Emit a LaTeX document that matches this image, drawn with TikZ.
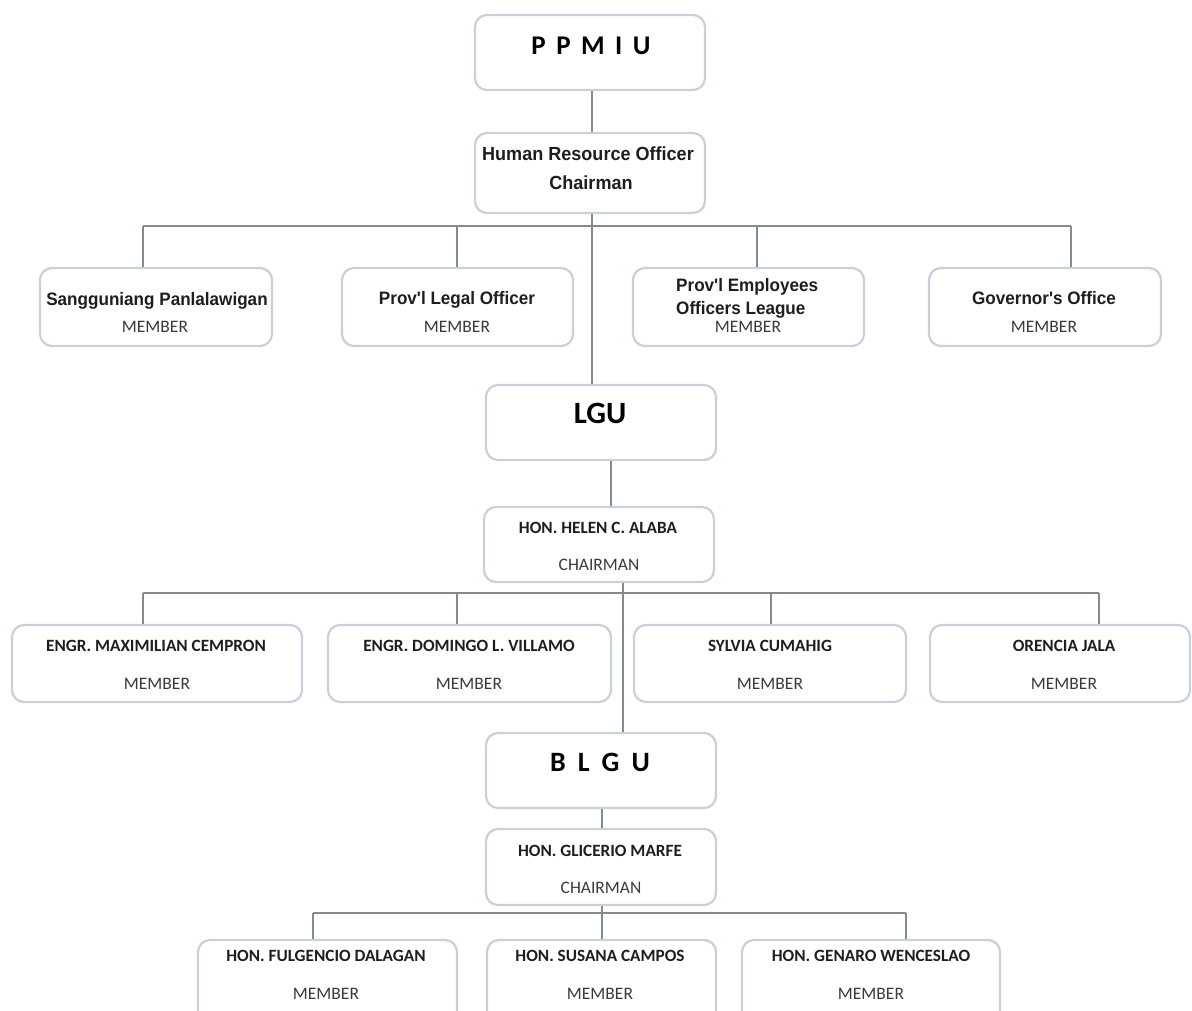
\documentclass[tikz,border=0pt]{standalone}
\usepackage{fontspec}
\setmainfont{Carlito}
\newfontfamily\arialb[FakeStretch=0.95]{Liberation Sans}
\usetikzlibrary{calc}
\definecolor{boxline}{HTML}{C9D0DA}
\definecolor{connline}{HTML}{858A90}
\definecolor{membcol}{HTML}{3A3A3A}
\definecolor{namecol}{HTML}{1E1E1E}
\tikzset{
  orgbox/.style={draw=boxline, line width=2.2pt, rounded corners=12pt, fill=white, inner sep=0pt},
  conn/.style={draw=connline, line width=1.5pt},
  titletxt/.style={anchor=base, inner sep=0pt, font=\bfseries\fontsize{28}{32}\selectfont, text=black},
  arialtxt/.style={anchor=base, inner sep=0pt, font=\arialb\bfseries\fontsize{18}{21}\selectfont, text=namecol},
  nametxt/.style={anchor=base, inner sep=0pt, font=\bfseries\fontsize{17.2}{20}\selectfont, text=namecol},
  membtxt/.style={anchor=base, inner sep=0pt, font=\fontsize{17.5}{20}\selectfont, text=membcol},
}
\newcommand{\mkbox}[5]{\node[orgbox, minimum width=#4-#2, minimum height=#5-#3] (#1) at ({(#2+#4)/2},{(#3+#5)/2}) {};}
\begin{document}
\begin{tikzpicture}[x=1pt,y=-1pt]
\useasboundingbox (0,0) rectangle (1192,1010);
\clip (0,0) rectangle (1192,1010);
\fill[white] (0,0) rectangle (1192,1010);

\coordinate (trk1) at (592,0);
\coordinate (trk2) at (611,0);
\coordinate (trk3) at (623,0);
\coordinate (trk4) at (602,0);

% boxes
\mkbox{ppmiu}{475}{15}{705}{90}
\mkbox{hr}{475}{133}{705}{213}
\mkbox{sang}{40}{268}{272}{346}
\mkbox{legal}{342}{268}{573}{346}
\mkbox{empl}{633}{268}{864}{346}
\mkbox{gov}{929}{268}{1161}{346}
\mkbox{lgu}{486}{385}{716}{460}
\mkbox{helen}{484}{507}{714}{582}
\mkbox{maxi}{12}{625}{302}{702}
\mkbox{domi}{328}{625}{611}{702}
\mkbox{sylv}{634}{625}{906}{702}
\mkbox{oren}{930}{625}{1190}{702}
\mkbox{blgu}{486}{733}{716}{808}
\mkbox{glic}{486}{829}{716}{905}
\mkbox{fulg}{198}{940}{457}{1040}
\mkbox{susa}{487}{940}{716}{1040}
\mkbox{gena}{742}{940}{1000}{1040}

% level 1
\coordinate (bus1) at (0,226);
\coordinate (d11) at (143,0);
\coordinate (d12) at (457,0);
\coordinate (d13) at (757,0);
\coordinate (d14) at (1071,0);
\draw[conn] (ppmiu.south -| trk1) -- (hr.north -| trk1);
\draw[conn] (hr.south -| trk1) -- (lgu.north -| trk1);
\draw[conn] (d11 |- bus1) -- (d14 |- bus1);
\draw[conn] (d11 |- bus1) -- (sang.north -| d11);
\draw[conn] (d12 |- bus1) -- (legal.north -| d12);
\draw[conn] (d13 |- bus1) -- (empl.north -| d13);
\draw[conn] (d14 |- bus1) -- (gov.north -| d14);

% level 2
\coordinate (bus2) at (0,593);
\coordinate (d21) at (143,0);
\coordinate (d22) at (457,0);
\coordinate (d23) at (771,0);
\coordinate (d24) at (1099,0);
\draw[conn] (lgu.south -| trk2) -- (helen.north -| trk2);
\draw[conn] (helen.south -| trk3) -- (blgu.north -| trk3);
\draw[conn] (d21 |- bus2) -- (d24 |- bus2);
\draw[conn] (d21 |- bus2) -- (maxi.north -| d21);
\draw[conn] (d22 |- bus2) -- (domi.north -| d22);
\draw[conn] (d23 |- bus2) -- (sylv.north -| d23);
\draw[conn] (d24 |- bus2) -- (oren.north -| d24);

% level 3
\coordinate (bus3) at (0,913);
\coordinate (d31) at (313,0);
\coordinate (d33) at (906,0);
\draw[conn] (blgu.south -| trk4) -- (glic.north -| trk4);
\draw[conn] (glic.south -| trk4) -- (susa.north -| trk4);
\draw[conn] (d31 |- bus3) -- (d33 |- bus3);
\draw[conn] (d31 |- bus3) -- (fulg.north -| d31);
\draw[conn] (d33 |- bus3) -- (gena.north -| d33);

% texts
\node[titletxt, font=\bfseries\fontsize{27}{32}\selectfont] (ppmiuT) at (591,54) {P\hspace{10.5pt}P\hspace{10.5pt}M\hspace{10.5pt}I\hspace{10.5pt}U};
\node[arialtxt, font=\arialb\bfseries\fontsize{19}{22}\selectfont] (hrT1) at (588,160) {Human Resource Officer};
\node[arialtxt, font=\arialb\bfseries\fontsize{19}{22}\selectfont] (hrT2) at (591,189) {Chairman};

\node[arialtxt] (sangT) at (157,305) {Sangguniang Panlalawigan};
\node[membtxt] (sangM) at (155,332) {MEMBER};
\node[arialtxt] (legalT) at (457,304) {Prov'l Legal Officer};
\node[membtxt] (legalM) at (457,332) {MEMBER};
\node[arialtxt, anchor=base west] (emplT1) at (676,291) {Prov'l Employees};
\node[arialtxt, anchor=base west] (emplT2) at (676,314) {Officers League};
\node[membtxt] (emplM) at (748,332) {MEMBER};
\node[arialtxt] (govT) at (1044,304) {Governor's Office};
\node[membtxt] (govM) at (1044,332) {MEMBER};

\node[titletxt, font=\bfseries\fontsize{31}{36}\selectfont] (lguT) at (600,423) {LGU};
\node[nametxt] (helenT) at (598,533) {HON. HELEN C. ALABA};
\node[membtxt] (helenM) at (599,570) {CHAIRMAN};

\node[nametxt] (maxiT) at (156,651) {ENGR. MAXIMILIAN CEMPRON};
\node[membtxt] (maxiM) at (157,689) {MEMBER};
\node[nametxt] (domiT) at (469,651) {ENGR. DOMINGO L. VILLAMO};
\node[membtxt] (domiM) at (469,689) {MEMBER};
\node[nametxt] (sylvT) at (770,651) {SYLVIA CUMAHIG};
\node[membtxt] (sylvM) at (770,689) {MEMBER};
\node[nametxt] (orenT) at (1064,651) {ORENCIA JALA};
\node[membtxt] (orenM) at (1064,689) {MEMBER};

\node[titletxt] (blguT) at (600,771) {B\hspace{12pt}L\hspace{12pt}G\hspace{12pt}U};
\node[nametxt] (glicT) at (600,856) {HON. GLICERIO MARFE};
\node[membtxt] (glicM) at (601,893) {CHAIRMAN};

\node[nametxt] (fulgT) at (326,961) {HON. FULGENCIO DALAGAN};
\node[membtxt] (fulgM) at (326,999) {MEMBER};
\node[nametxt] (susaT) at (600,961) {HON. SUSANA CAMPOS};
\node[membtxt] (susaM) at (600,999) {MEMBER};
\node[nametxt] (genaT) at (871,961) {HON. GENARO WENCESLAO};
\node[membtxt] (genaM) at (871,999) {MEMBER};
\end{tikzpicture}
\end{document}
